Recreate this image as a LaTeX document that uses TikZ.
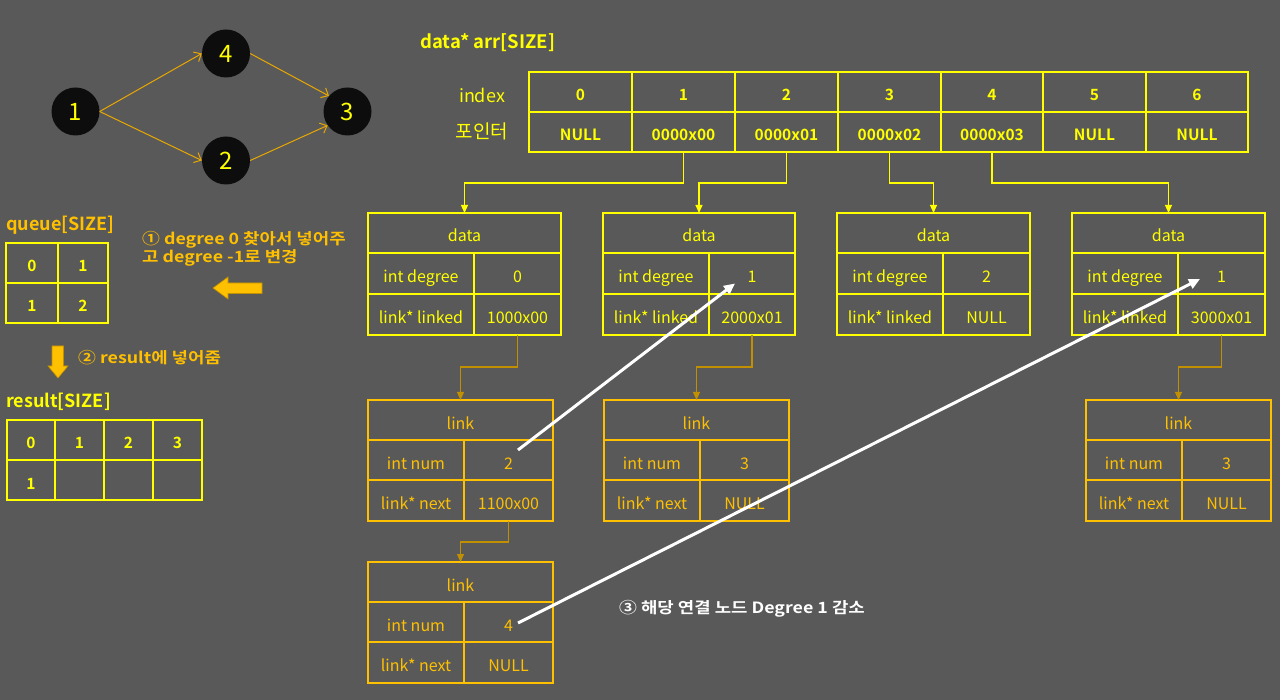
\documentclass[tikz,border=0pt]{standalone}
\usepackage{fontspec}
\setmainfont{Noto Sans CJK KR}[BoldFont={* Bold}]
\newfontfamily\widefont{Noto Sans CJK KR}[BoldFont={* Bold},FakeStretch=1.15]
\usetikzlibrary{arrows.meta}
\definecolor{bg}{HTML}{595959}
\definecolor{yel}{HTML}{FFFF00}
\definecolor{org}{HTML}{FFC000}
\definecolor{gold}{HTML}{C09000}
\definecolor{garrow}{HTML}{E8A800}
\definecolor{nodeblk}{HTML}{0D0D0D}
\newcommand\cellbox[7]{\node[#1,minimum width={(#5)-(#3)},minimum height={(#6)-(#4)}] (#2) at ({((#3)+(#5))/2},{((#4)+(#6))/2}) {#7};}
\tikzset{
  base/.style={inner sep=0pt,outer sep=0pt,line width=1.8pt,text height=18pt,text depth=0pt},
  acell/.style={base,draw=yel,text=yel,font=\bfseries\fontsize{15.5}{18}\selectfont},
  dcell/.style={base,draw=yel,text=yel,font=\fontsize{16}{18}\selectfont},
  lcell/.style={base,draw=org,text=org,font=\fontsize{16}{18}\selectfont},
  qcell/.style={base,draw=yel,text=yel,font=\bfseries\fontsize{15.5}{18}\selectfont},
  gnode/.style={circle,fill=nodeblk,minimum size=48pt,inner sep=0pt,text=yel,font=\fontsize{24}{28}\selectfont},
  garr/.style={draw=garrow,line width=1pt,-{Straight Barb[length=6pt,width=11pt]}},
  yconn/.style={draw=yel,line width=1.1pt,-{Triangle[length=8pt,width=7pt]}},
  gconn/.style={draw=gold,line width=1.1pt,-{Triangle[length=8pt,width=7pt]}},
  warr/.style={draw=white,line width=3pt,-{Triangle[length=11pt,width=10pt]}},
  lbl/.style={inner sep=0pt,anchor=west},
  wlbl/.style={lbl,font=\widefont\bfseries\fontsize{15.5}{18}\selectfont},
}
\begin{document}
\begin{tikzpicture}[x=1pt,y=-1pt]
\fill[bg] (0,0) rectangle (1280,700);
\useasboundingbox (0,0) rectangle (1280,700);

% graph
\node[gnode] (n1) at (75.5,111.5) {1};
\node[gnode] (n4) at (226,53.5) {4};
\node[gnode] (n2) at (226,160.5) {2};
\node[gnode] (n3) at (347.5,111.5) {3};
\draw[garr] (n1.east) -- (n4.west);
\draw[garr] (n1.east) -- (n2.west);
\draw[garr] (n4.east) -- (n3.140);
\draw[garr] (n2.east) -- (n3.215);

% array
\node[lbl,text=yel,font=\bfseries\fontsize{18.5}{22}\selectfont] (title) at (420,43) {data* arr[SIZE]};
\node[text=yel,inner sep=0pt,font=\fontsize{18}{21}\selectfont] (idx) at (482,95) {index};
\node[text=yel,inner sep=0pt,font=\fontsize{19}{21}\selectfont] (ptr) at (482,131) {포인터};
\foreach \i/\a/\b/\p in {0/529/632/NULL,1/632/735/0000x00,2/735/838/0000x01,3/838/941/0000x02,4/941/1043/0000x03,5/1043/1146/NULL,6/1146/1248/NULL}{
  \cellbox{acell}{i\i}{\a}{72}{\b}{112}{\i}
  \cellbox{acell}{p\i}{\a}{112}{\b}{152}{\p}
}

% data boxes
\foreach \k/\xa/\xb/\xc/\dg/\lk in {1/368/474/561/0/1000x00,2/603/709/795/1/2000x01,3/837/943/1030/2/NULL,4/1072/1178/1265/1/3000x01}{
  \cellbox{dcell}{d\k-h}{\xa}{213}{\xc}{253}{data}
  \cellbox{dcell}{d\k-a}{\xa}{253}{\xb}{294}{int degree}
  \cellbox{dcell}{d\k-b}{\xb}{253}{\xc}{294}{\dg}
  \cellbox{dcell}{d\k-c}{\xa}{294}{\xb}{335}{link* linked}
  \cellbox{dcell}{d\k-d}{\xb}{294}{\xc}{335}{\lk}
}

% link boxes
\foreach \k/\xa/\xb/\xc/\ya/\nm/\nx in {1/368/464/553/400/2/1100x00,2/604/700/789/400/3/NULL,3/368/464/553/562/4/NULL,4/1086/1182/1271/400/3/NULL}{
  \cellbox{lcell}{l\k-h}{\xa}{\ya}{\xc}{\ya+40}{link}
  \cellbox{lcell}{l\k-a}{\xa}{\ya+40}{\xb}{\ya+80}{int num}
  \cellbox{lcell}{l\k-b}{\xb}{\ya+40}{\xc}{\ya+80}{\nm}
  \cellbox{lcell}{l\k-c}{\xa}{\ya+80}{\xb}{\ya+121}{link* next}
  \cellbox{lcell}{l\k-d}{\xb}{\ya+80}{\xc}{\ya+121}{\nx}
}

% connectors array -> data
\draw[yconn] (p1.south) -- ++(0,31) -| (d1-h.north);
\draw[yconn] (p2.south) -- ++(0,31) -| (d2-h.north);
\draw[yconn] (p3.south) -- ++(0,31) -| (d3-h.north);
\draw[yconn] (p4.south) -- ++(0,31) -| (d4-h.north);

% connectors data -> link
\draw[gconn] (d1-d.south) -- ++(0,32) -| (l1-h.north);
\draw[gconn] (d2-d.south) -- ++(0,32) -| (l2-h.north);
\draw[gconn] (d4-d.south) -- ++(0,32) -| (l4-h.north);
\draw[gconn] (l1-d.south) -- ++(0,21) -| (l3-h.north);

% white arrows
\coordinate (w1s) at ([shift={(9.5,-10)}]l1-b.center);
\coordinate (w1e) at ([shift={(-17,10)}]d2-b.center);
\coordinate (w2s) at ([shift={(9.5,1)}]l3-b.center);
\coordinate (w2e) at ([shift={(-21.5,5.5)}]d4-b.center);
\draw[warr] (w1s) -- (w1e);
\draw[warr] (w2s) -- (w2e);
\node[wlbl,text=white] (s3) at (619,609) {③ 해당 연결 노드 Degree 1 감소};

% queue
\node[lbl,text=org,font=\bfseries\fontsize{18}{20}\selectfont] (qt) at (6,225) {queue[SIZE]};
\cellbox{qcell}{q00}{6}{243}{58}{283}{0}
\cellbox{qcell}{q01}{58}{243}{108}{283}{1}
\cellbox{qcell}{q10}{6}{283}{58}{323}{1}
\cellbox{qcell}{q11}{58}{283}{108}{323}{2}
\node[wlbl,anchor=north west,align=left,text=org] (s1) at (142,231) {① degree 0 찾아서 넣어주\\고 degree -1로 변경};
\fill[org,draw=gold,line width=0.6pt] (213,288) -- (228,277) -- (228,283) -- (262,283) -- (262,293.5) -- (228,293.5) -- (228,299) -- cycle;
\fill[org,draw=gold,line width=0.6pt] (52,346) -- (63.5,346) -- (63.5,366) -- (68,366) -- (58,378) -- (48,366) -- (52,366) -- cycle;
\node[wlbl,text=org] (s2) at (78,358) {② result에 넣어줌};

% result
\node[lbl,text=yel,font=\bfseries\fontsize{18}{20}\selectfont] (rt) at (6,402) {result[SIZE]};
\foreach \i/\a/\b/\v in {0/7/55/1,1/55/104/,2/104/153/,3/153/202/}{
  \cellbox{qcell}{r0\i}{\a}{420}{\b}{460}{\i}
  \cellbox{qcell}{r1\i}{\a}{460}{\b}{500}{\v}
}
\end{tikzpicture}
\end{document}
